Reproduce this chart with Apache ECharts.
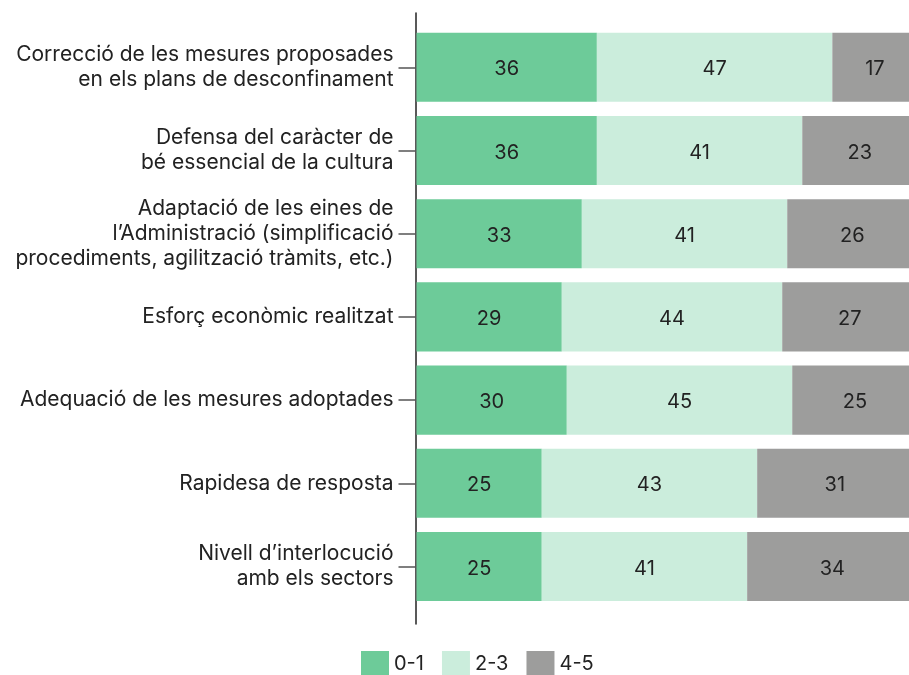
<!DOCTYPE html>
<html>
<head>
<meta charset="utf-8">
<script src="https://cdn.jsdelivr.net/npm/echarts@6/dist/echarts.min.js"></script>
<style>
html,body{margin:0;padding:0;background:#fff;}
#chart{width:909px;height:675px;}
</style>
</head>
<body>
<div id="chart"></div>
<script>
const categories = [
  "Correcció de les mesures proposades\nen els plans de desconfinament",
  "Defensa del caràcter de\nbé essencial de la cultura",
  "Adaptació de les eines de\nl’Administració (simplificació\nprocediments, agilització tràmits, etc.)",
  "Esforç econòmic realitzat",
  "Adequació de les mesures adoptades",
  "Rapidesa de resposta",
  "Nivell d’interlocució\namb els sectors"
];
const seriesNames = ["0-1", "2-3", "4-5"];
const values01 = [36, 36, 33, 29, 30, 25, 25];
const values23 = [47, 41, 41, 44, 45, 43, 41];
const values45 = [17, 23, 26, 27, 25, 31, 34];
const colors = ["#6dcb99", "#cbeddc", "#9d9d9c"];

const FONT = "Inter";
const chart = echarts.init(document.getElementById('chart'), null, {renderer: 'canvas'});
const allValues = [values01, values23, values45];

chart.setOption({
  animation: false,
  textStyle: {fontFamily: FONT},
  grid: [
    {left: 416.5, width: 501, top: 25.7, height: 582.4, outerBoundsMode: 'none', containLabel: false},
    {left: 416, width: 501, top: 13, height: 611, outerBoundsMode: 'none', containLabel: false}
  ],
  legend: {
    data: seriesNames,
    left: 361,
    top: 651,
    padding: 0,
    itemWidth: 28,
    itemHeight: 25,
    itemGap: 18,
    icon: 'rect',
    textStyle: {fontFamily: FONT, fontSize: 20, color: '#222'}
  },
  xAxis: [
    {type: 'value', gridIndex: 0, min: 0, max: 100, show: false},
    {type: 'value', gridIndex: 1, min: 0, max: 100, show: false}
  ],
  yAxis: [
    {
      type: 'category', gridIndex: 0, inverse: true, data: categories,
      axisLine: {show: false},
      axisTick: {show: true, alignWithLabel: true, length: 18, lineStyle: {color: '#555', width: 1.5}},
      axisLabel: {fontFamily: FONT, fontSize: 21, color: '#222', margin: 23, lineHeight: 25, align: 'right'}
    },
    {
      type: 'category', gridIndex: 1, data: categories,
      axisLine: {show: true, lineStyle: {color: '#222', width: 1.5}},
      axisTick: {show: false},
      axisLabel: {show: false}
    }
  ],
  series: allValues.map((vals, i) => ({
    name: seriesNames[i],
    type: 'bar',
    stack: 'total',
    xAxisIndex: 0,
    yAxisIndex: 0,
    barCategoryGap: '17%',
    data: vals,
    itemStyle: {color: colors[i]},
    label: {show: true, position: 'inside', offset: [0, 2], fontFamily: FONT, fontSize: 20, color: '#222'}
  }))
});
</script>
</body>
</html>
